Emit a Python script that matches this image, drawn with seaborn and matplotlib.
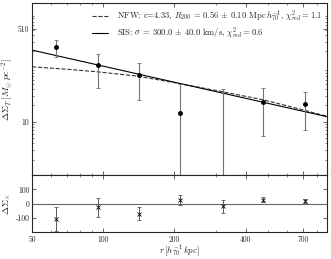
import matplotlib
matplotlib.use("Agg")
import matplotlib.pyplot as plt
import matplotlib.ticker as mticker
import numpy as np
import pandas as pd
import seaborn as sns

# radial bins (h70^-1 kpc)
radius = [63, 95, 141, 212, 320, 476, 711]
# tangential shear profile
sigma_t = [241, 110, 72, 14.7, -5, 23.4, 20.9]
# cross shear profile
sigma_x = [-106, -26, -70, 28, -19, 28, 16]
# errors (same for both components)
sigma_err = [86, 68, 47, 34, 46, 18, 14]

# model curves
sis_r = [50, 885]
sis_sigma = [209, 12.4]
nfw_r = [50, 70, 95, 139, 203, 320, 476, 650, 885]
nfw_sigma = [103, 93, 83, 69.5, 52, 35.7, 25.3, 18.0, 12.6]

sis_label = r"SIS: $\sigma$ = 300.0 $\pm$ 40.0 km/s, $\chi^2_{red}=0.6$"
nfw_label = (r"NFW: c=4.33, $R_{200}$ = 0.56 $\pm$ 0.10 Mpc$\,h_{70}^{-1}$, "
             r"$\chi^2_{red}=1.1$")

sns.set_style("ticks")
plt.rcParams.update(
    {
        "font.family": "serif",
        "font.serif": ["cmr10", "DejaVu Serif"],
        "mathtext.fontset": "cm",
        "axes.unicode_minus": False,
        "axes.formatter.use_mathtext": True,
        "font.size": 5.5,
        "axes.linewidth": 0.8,
        "xtick.direction": "in",
        "ytick.direction": "in",
        "xtick.top": True,
        "ytick.right": True,
    }
)

nfw_df = pd.DataFrame({"r": nfw_r, "sigma": nfw_sigma})
sis_df = pd.DataFrame({"r": sis_r, "sigma": sis_sigma})

fig = plt.figure(figsize=(3.31, 2.59), dpi=100)
ax = fig.add_axes([0.097, 0.324, 0.891, 0.663])
axb = fig.add_axes([0.097, 0.103, 0.891, 0.221], sharex=ax)

sns.lineplot(data=nfw_df, x="r", y="sigma", ax=ax, color="0.2", lw=0.8,
             linestyle="--", label=nfw_label)
sns.lineplot(data=sis_df, x="r", y="sigma", ax=ax, color="black", lw=0.8,
             label=sis_label)
ax.errorbar(radius, sigma_t, yerr=sigma_err, fmt="o", color="black",
            ecolor="0.45", elinewidth=0.8, capsize=1.5, capthick=0.6,
            markersize=2.5, zorder=3)

ax.set_xscale("log")
ax.set_yscale("log")
ax.set_xlim(50, 885)
ax.set_ylim(1.04, 1520)
ax.yaxis.set_major_locator(mticker.FixedLocator([10, 510]))
ax.yaxis.set_major_formatter(mticker.FixedFormatter(["10", "510"]))
ax.yaxis.set_minor_locator(mticker.LogLocator(subs=np.arange(2, 10), numticks=20))
ax.yaxis.set_minor_formatter(mticker.NullFormatter())
ax.set_ylabel(r"$\Delta\Sigma_T\,[M_{\odot}\,pc^{-2}]$", fontsize=7, labelpad=2)
ax.set_xlabel("")
ax.tick_params(axis="x", labelbottom=False)
ax.tick_params(which="major", length=3, width=0.5, labelsize=5.5, pad=2)
ax.tick_params(which="minor", length=1.5, width=0.4)
ax.legend(loc="upper right", frameon=False, fontsize=6.2, handlelength=1.8,
          borderaxespad=0.2, labelspacing=0.25, handletextpad=1.0)

axb.axhline(0, color="0.4", lw=0.8, zorder=1)
axb.errorbar(radius, sigma_x, yerr=sigma_err, fmt="x", color="black",
             ecolor="0.35", elinewidth=0.7, capsize=1.5, capthick=0.6,
             markersize=2.5, markeredgewidth=0.6, zorder=3)
axb.set_ylim(-200, 200)
axb.yaxis.set_major_locator(mticker.FixedLocator([-100, 0, 100]))
axb.yaxis.set_major_formatter(mticker.FixedFormatter(["-100", "0", "100"]))
axb.xaxis.set_major_locator(mticker.FixedLocator([50, 100, 200, 400, 700]))
axb.xaxis.set_major_formatter(mticker.FixedFormatter(["50", "100", "200", "400", "700"]))
axb.xaxis.set_minor_locator(mticker.LogLocator(subs=np.arange(2, 10), numticks=20))
axb.xaxis.set_minor_formatter(mticker.NullFormatter())
axb.set_ylabel(r"$\Delta\Sigma_{\times}$", fontsize=7, labelpad=2)
axb.set_xlabel(r"$r\,[h_{70}^{-1}\,kpc]$", fontsize=6.5, labelpad=0)
axb.tick_params(which="major", length=3, width=0.5, labelsize=5.5, pad=2)
axb.tick_params(which="minor", length=1.5, width=0.4)

fig.savefig("out.png", dpi=100)
